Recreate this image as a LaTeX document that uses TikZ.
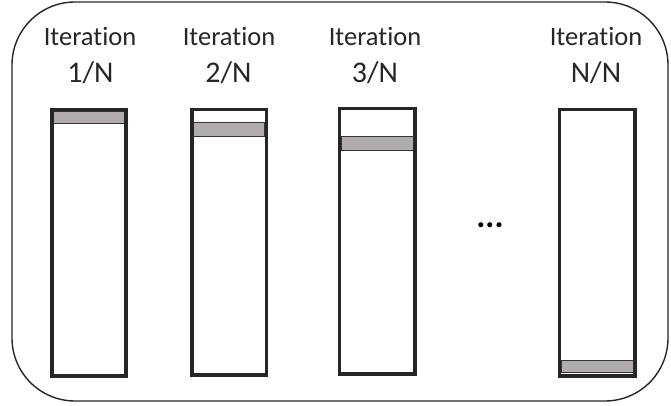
\documentclass[tikz,border=0pt]{standalone}
\usepackage{fontspec}
\setmainfont{Carlito}[Ligatures={NoCommon,NoRare}]
\begin{document}
\begin{tikzpicture}[x=1pt,y=1pt,
  lbl/.style={anchor=base,inner sep=0pt,font=\fontsize{26.5}{30}\selectfont,text=black!85},
  frac/.style={lbl,font=\fontsize{30}{34}\selectfont},
  barbox/.style={draw=black!85,line width=3.6pt,fill=white},
  band/.style={draw=black!80,line width=0.8pt,fill=gray!65!red!5!white!70!black}
]
\useasboundingbox (0,0) rectangle (671,405);
\draw[line width=1.4pt,black!85,rounded corners=63pt] (12,403) rectangle (668,4);
% bars
\foreach \i/\xl/\xr/\yt/\yb/\bt/\bb in {1/51.8/125.9/295.5/28.8/294/281.7, 2/191.8/266.5/295.5/29.8/282.7/268.3, 3/339.3/414.7/296.5/30.8/269/254.3, 4/559.3/634.9/295.5/28.8/45/32.3}{
  \draw[barbox] (\xl,\yt) rectangle (\xr,\yb);
  \draw[band] (\xl+1.8,\bt) rectangle (\xr-1.8,\bb);
  \draw[barbox,fill=none] (\xl,\yt) rectangle (\xr,\yb);
}
% labels
\node[lbl] (it1) at (90,359) {Iteration};
\node[frac] (n1) at (90.5,322) {1/N};
\node[lbl] (it2) at (229,359) {Iteration};
\node[frac] (n2) at (228.5,322) {2/N};
\node[lbl] (it3) at (375,359) {Iteration};
\node[frac] (n3) at (375,322) {3/N};
\node[lbl] (it4) at (596,359) {Iteration};
\node[frac] (n4) at (596,322) {N/N};
\node[inner sep=0pt,font=\fontsize{34}{38}\selectfont\bfseries] (dots) at (490,180) {...};
\end{tikzpicture}
\end{document}
